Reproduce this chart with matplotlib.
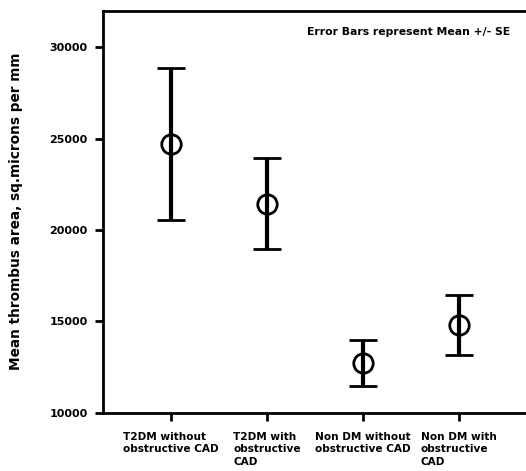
import numpy as np
import matplotlib.pyplot as plt

groups = ['T2DM without\nobstructive CAD', 'T2DM with\nobstructive\nCAD',
          'Non DM without\nobstructive CAD', 'Non DM with\nobstructive\nCAD']
means = [24700, 21400, 12700, 14800]
upper = [28850, 23950, 13950, 16450]
lower = [20550, 18950, 11450, 13150]
yticks = [10000, 15000, 20000, 25000, 30000]

means = np.array(means)
err = np.array([means - np.array(lower), np.array(upper) - means])
x = np.arange(len(groups))

fig = plt.figure(figsize=(5.26, 4.71), dpi=100)
ax = fig.add_axes([0.196, 0.124, 0.804, 0.853])

ax.errorbar(x, means, yerr=err, fmt='o', color='black', ecolor='black',
            elinewidth=3, capsize=10, capthick=3.5,
            markersize=14, markerfacecolor='none', markeredgewidth=2)

ax.set_xlim(-0.71, 3.70)
ax.set_ylim(10000, 32000)
ax.set_yticks(yticks)
ax.set_yticklabels([str(v) for v in yticks], fontsize=8, fontweight='bold')
ax.set_xticks(x)
ax.set_xticklabels(groups, fontsize=7.6, fontweight='bold', multialignment='left',
                   linespacing=1.3)
ax.tick_params(direction='out', length=6, width=2, pad=5)
ax.tick_params(axis='x', pad=8)

for s in ['left', 'bottom', 'top']:
    ax.spines[s].set_linewidth(2)
ax.spines['right'].set_visible(False)

ax.set_ylabel('Mean thrombus area, sq.microns per mm', fontsize=9.8,
              fontweight='bold', labelpad=19)
ax.text(0.962, 0.948, 'Error Bars represent Mean +/- SE', transform=ax.transAxes,
        ha='right', va='center', fontsize=7.8, fontweight='bold')

fig.savefig('out.png', dpi=100)
